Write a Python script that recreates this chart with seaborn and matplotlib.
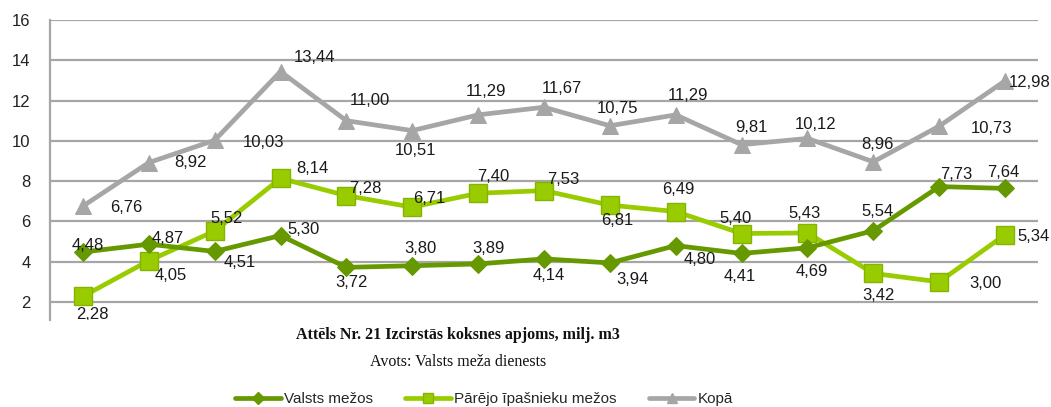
import matplotlib
matplotlib.use("Agg")
import matplotlib.pyplot as plt
import seaborn as sns
import pandas as pd
import numpy as np
from matplotlib.lines import Line2D
from matplotlib.transforms import Bbox, TransformedBbox

# ---- data ----
positions = list(range(1, 16))
valsts = [4.48, 4.87, 4.51, 5.30, 3.72, 3.80, 3.89, 4.14, 3.94, 4.80, 4.41, 4.69, 5.54, 7.73, 7.64]
parejo = [2.28, 4.05, 5.52, 8.14, 7.28, 6.71, 7.40, 7.53, 6.81, 6.49, 5.40, 5.43, 3.42, 3.00, 5.34]
kopa = [6.76, 8.92, 10.03, 13.44, 11.00, 10.51, 11.29, 11.67, 10.75, 11.29, 9.81, 10.12, 8.96, 10.73, 12.98]
series_names = ["Valsts mežos", "Pārējo īpašnieku mežos", "Kopā"]
y_ticks = [2, 4, 6, 8, 10, 12, 14, 16]
title_text = "Attēls Nr. 21 Izcirstās koksnes apjoms, milj. m3"
source_text = "Avots: Valsts meža dienests"

# ---- style ----
sns.set_theme(style="white")
plt.rcParams["font.family"] = ["Liberation Sans", "DejaVu Sans"]

c_valsts = "#669900"
c_parejo = "#99CC00"
c_parejo_edge = "#86B300"
c_kopa = "#A6A6A6"
grid_c = "#A6A6A6"

# label offsets in pixels (dx, dy up)
off_kopa = [(43, -1), (42, 0), (49, -2), (34, 14), (23, 20), (3, -20), (8, 23), (18, 19),
            (8, 17), (12, 19), (10, 17), (8, 14), (4, 17), (52, -2), (25, -2)]
off_valsts = [(5, 7), (19, 6), (25, -11), (23, 6), (5, -15), (8, 17), (10, 15), (5, -17),
              (23, -17), (24, -14), (-2, -23), (4, -24), (4, 19), (17, 12), (-2, 16)]
off_parejo = [(9, -18), (22, -15), (12, 13), (32, 10), (19, 7), (17, 9), (15, 17), (19, 11),
              (7, -15), (3, 22), (-6, 15), (-3, 19), (5, -22), (46, -2), (28, -2)]

W, H = 1051, 407
fig = plt.figure(figsize=(W / 100, H / 100), dpi=100)
ax_left, ax_right, ax_top, ax_bottom = 50, 1038, 20, 320
ax = fig.add_axes([ax_left / W, 1 - ax_bottom / H, (ax_right - ax_left) / W, (ax_bottom - ax_top) / H])

df = pd.DataFrame({"pos": positions, "valsts": valsts, "parejo": parejo, "kopa": kopa})

sns.lineplot(data=df, x="pos", y="kopa", ax=ax, color=c_kopa, lw=3.4, marker="^",
             markersize=12, markeredgecolor=c_kopa, markerfacecolor=c_kopa, zorder=3)
sns.lineplot(data=df, x="pos", y="parejo", ax=ax, color=c_parejo, lw=3.4, marker="s",
             markersize=12.5, markeredgecolor=c_parejo_edge, markeredgewidth=1,
             markerfacecolor=c_parejo, zorder=4)
sns.lineplot(data=df, x="pos", y="valsts", ax=ax, color=c_valsts, lw=3.4, marker="D",
             markersize=9.5, markeredgecolor=c_valsts, markerfacecolor=c_valsts, zorder=5)

ax.set_xlim(0.5, 15.5)
ymin = 2 - (ax_bottom - 302) / ((302 - 20) / 14)
ax.set_ylim(ymin, 16)
ax.set_yticks(y_ticks)
ax.set_yticklabels([str(t) for t in y_ticks], fontsize=12, color="#222222")
ax.set_xticks([])
ax.set_xlabel("")
ax.set_ylabel("")
ax.tick_params(axis="y", length=0, pad=14)
for yv in y_ticks:
    ax.axhline(yv, color=grid_c, lw=1.6, zorder=1)
for s in ["top", "right", "bottom"]:
    ax.spines[s].set_visible(False)
ax.spines["left"].set_color(grid_c)
ax.spines["left"].set_linewidth(1.6)


def fmt(v):
    return f"{v:.2f}".replace(".", ",")


clip_box = TransformedBbox(Bbox([[0, 1 - ax_bottom / H], [1, 1]]), fig.transFigure)
for vals, offs in [(kopa, off_kopa), (valsts, off_valsts), (parejo, off_parejo)]:
    for x, v, (dx, dy) in zip(positions, vals, offs):
        t = ax.annotate(fmt(v), (x, v), xytext=(dx, dy), textcoords="offset pixels",
                        ha="center", va="center", fontsize=12, color="#1a1a1a",
                        zorder=6, annotation_clip=False)
        t.set_clip_box(clip_box)
        t.set_clip_on(True)

fig.text(458 / W, 1 - 335 / H, title_text, ha="center", va="center",
         family=["Liberation Serif", "DejaVu Serif"], fontweight="bold", fontsize=11.5, color="#111111")
fig.text(458 / W, 1 - 362 / H, source_text, ha="center", va="center",
         family=["Liberation Serif", "DejaVu Serif"], fontsize=11.5, color="#111111")

handles = [
    Line2D([], [], color=c_valsts, lw=3.4, marker="D", markersize=6, markerfacecolor=c_valsts),
    Line2D([], [], color=c_parejo, lw=3.4, marker="s", markersize=7, markerfacecolor=c_parejo,
           markeredgecolor=c_parejo_edge),
    Line2D([], [], color=c_kopa, lw=3.4, marker="^", markersize=7, markerfacecolor=c_kopa),
]
fig.legend(handles, series_names, loc="center", bbox_to_anchor=(484 / W, 1 - 399 / H),
           ncol=3, frameon=False, fontsize=11, handlelength=3.0, handletextpad=0.2,
           columnspacing=2.1, borderpad=0, borderaxespad=0)

fig.savefig("out.png", dpi=100)
